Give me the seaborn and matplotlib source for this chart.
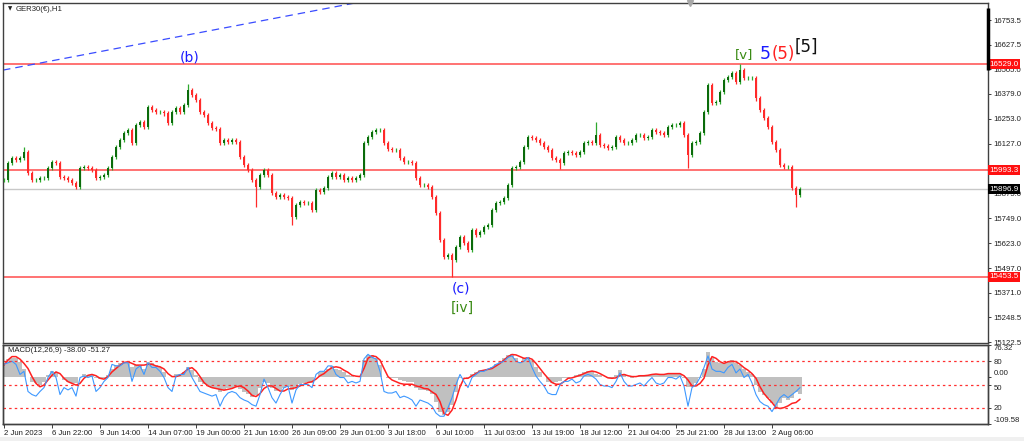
import numpy as np
import pandas as pd
import matplotlib
matplotlib.use("Agg")
import matplotlib.pyplot as plt
import matplotlib.transforms as mtransforms
from matplotlib.patches import Rectangle
import seaborn as sns

# ---- data (one value per candle, 200 candles) ----
closes = [
    15943, 16029, 16055, 16044, 16055, 16085, 15979, 15943, 15943, 15953,
    15953, 16004, 16034, 16029, 15958, 15953, 15943, 15928, 15908, 16004,
    16009, 16004, 15994, 15953, 15958, 15968, 16004, 16060, 16110, 16146,
    16181, 16196, 16131, 16222, 16237, 16212, 16313, 16298, 16288, 16288,
    16282, 16232, 16288, 16308, 16288, 16323, 16399, 16374, 16348, 16288,
    16272, 16232, 16207, 16201, 16131, 16146, 16136, 16146, 16136, 16060,
    16019, 15994, 15943, 15908, 15968, 15994, 15968, 15877, 15857, 15867,
    15857, 15852, 15756, 15816, 15832, 15827, 15827, 15791, 15892, 15882,
    15903, 15958, 15979, 15958, 15968, 15943, 15953, 15943, 15953, 15968,
    16131, 16161, 16186, 16196, 16196, 16131, 16100, 16095, 16095, 16055,
    16034, 16034, 16029, 15953, 15918, 15918, 15908, 15857, 15776, 15639,
    15553, 15563, 15538, 15604, 15654, 15624, 15589, 15690, 15665, 15680,
    15705, 15715, 15791, 15827, 15832, 15852, 15918, 16004, 16009, 16034,
    16110, 16161, 16156, 16146, 16131, 16110, 16095, 16055, 16044, 16029,
    16080, 16085, 16080, 16070, 16085, 16131, 16136, 16131, 16171, 16120,
    16115, 16105, 16110, 16161, 16146, 16131, 16131, 16146, 16171, 16171,
    16156, 16161, 16196, 16186, 16181, 16171, 16212, 16222, 16222, 16232,
    16171, 16070, 16131, 16136, 16181, 16288, 16424, 16333, 16338, 16389,
    16450, 16465, 16485, 16440, 16500, 16460, 16460, 16460, 16358, 16298,
    16257, 16212, 16136, 16095, 16019, 16009, 16009, 15903, 15867, 15896.9,
]

# candles with long wicks
spike_hi_idx = [5, 46, 148, 184]
spike_hi_val = [16110, 16430, 16237, 16529.0]
spike_lo_idx = [63, 72, 112, 139, 171, 198]
spike_lo_val = [15806, 15715, 15453.5, 15999, 16004, 15806]

macd_main = [
    29, 43, 46, 45, 37, 21, 2, -10, -14, -18,
    -10, 5, 15, 13, 2, -6, -10, -12, -14, 2,
    7, 5, 5, -2, -4, -2, 5, 21, 29, 33,
    37, 37, 25, 29, 29, 21, 37, 33, 29, 25,
    13, 2, 2, 9, 9, 13, 25, 17, 5, -10,
    -16, -20, -26, -26, -34, -30, -26, -24, -22, -27,
    -34, -40, -45, -42, -26, -10, -14, -26, -32, -30,
    -26, -22, -30, -22, -16, -14, -10, -14, 2, 12,
    15, 21, 27, 21, 17, 13, 5, 4, 2, 4,
    41, 53, 53, 45, 29, 2, -2, -2, -2, -6,
    -9, -10, -10, -26, -30, -30, -32, -38, -57, -81,
    -89, -81, -65, -34, -2, 2, -2, 9, 13, 17,
    17, 20, 25, 31, 37, 45, 53, 56, 45, 37,
    45, 49, 41, 25, 13, 2, -10, -14, -10, -9,
    -2, -1, 2, 5, 9, 13, 15, 15, 9, 5,
    2, -2, -2, 5, 17, 9, 2, -1, 2, 5,
    4, 5, 9, 7, 7, 5, 9, 9, 7, 9,
    -2, -22, -22, -14, -2, 21, 60, 45, 37, 33,
    33, 37, 41, 33, 29, 21, 13, 7, -18, -34,
    -42, -49, -61, -69, -61, -49, -53, -49, -34, -38.00,
]

macd_signal = [
    29, 41, 49, 49, 43, 33, 21, 2, -14, -22,
    -18, -6, 5, 13, 9, -2, -10, -14, -18, -14,
    -2, 5, 7, 4, -2, -4, 2, 13, 21, 29,
    35, 37, 33, 29, 29, 29, 31, 31, 27, 25,
    20, 9, 2, 2, 5, 12, 20, 23, 15, 2,
    -12, -20, -24, -26, -28, -30, -28, -26, -22, -20,
    -24, -32, -42, -45, -38, -26, -20, -20, -26, -32,
    -32, -27, -26, -24, -20, -16, -12, -10, -4, 4,
    9, 17, 23, 25, 23, 17, 12, 5, 3, 2,
    21, 45, 51, 49, 41, 21, 2, -6, -10, -14,
    -16, -16, -16, -20, -22, -26, -27, -34, -40, -57,
    -85, -89, -77, -53, -22, -2, -2, 4, 9, 15,
    17, 19, 21, 27, 33, 41, 49, 54, 53, 49,
    45, 46, 43, 33, 21, 9, -2, -12, -16, -16,
    -10, -2, -1, 2, 5, 9, 13, 15, 13, 9,
    4, -1, -2, -1, 5, 7, 4, 2, 2, 4,
    4, 5, 7, 8, 7, 7, 9, 9, 9, 9,
    4, -6, -20, -20, -14, -2, 29, 49, 45, 37,
    33, 37, 38, 37, 31, 23, 17, 9, -2, -22,
    -38, -49, -59, -71, -73, -71, -67, -61, -59, -51.27,
]

# oscillator on the 0-100 scale (levels 80 / 50 / 20)
osc = [
    76, 78, 80, 76, 63, 67, 41, 37, 35, 41,
    46, 59, 67, 59, 37, 46, 43, 46, 35, 59,
    61, 59, 61, 41, 46, 54, 59, 76, 74, 74,
    78, 78, 54, 70, 74, 63, 78, 72, 72, 67,
    59, 46, 41, 61, 63, 63, 72, 59, 50, 41,
    39, 37, 35, 37, 22, 33, 39, 41, 39, 33,
    30, 28, 24, 22, 37, 57, 46, 33, 26, 37,
    46, 48, 26, 43, 50, 50, 50, 46, 63, 67,
    67, 74, 74, 63, 59, 59, 52, 54, 52, 54,
    83, 89, 85, 83, 67, 41, 39, 39, 41, 33,
    35, 33, 30, 22, 30, 28, 26, 22, 13, 9,
    9, 20, 33, 50, 63, 54, 46, 59, 63, 67,
    67, 70, 72, 76, 78, 80, 85, 87, 80, 78,
    80, 85, 72, 61, 54, 48, 39, 37, 37, 50,
    54, 54, 57, 52, 54, 61, 63, 61, 57, 50,
    48, 48, 46, 54, 65, 54, 48, 48, 50, 52,
    48, 54, 59, 52, 50, 52, 59, 59, 57, 61,
    48, 22, 46, 50, 59, 72, 87, 70, 67, 67,
    65, 72, 76, 65, 70, 59, 63, 52, 37, 28,
    24, 22, 15, 24, 33, 37, 33, 37, 41, 46,
]

date_labels = ['2 Jun 2023', '6 Jun 22:00', '9 Jun 14:00', '14 Jun 07:00', '19 Jun 00:00',
               '21 Jun 16:00', '26 Jun 09:00', '29 Jun 01:00', '3 Jul 18:00', '6 Jul 10:00',
               '11 Jul 03:00', '13 Jul 19:00', '18 Jul 12:00', '21 Jul 04:00', '25 Jul 21:00',
               '28 Jul 13:00', '2 Aug 06:00']
date_idx = list(range(0, 193, 12))

price_ticks = [16753.5, 16627.5, 16505.0, 16379.0, 16253.0, 16127.0,
               15875.0, 15749.0, 15623.0, 15497.0, 15371.0, 15248.5, 15122.5]
red_levels = [16529.0, 15993.3, 15453.5]
last_price = 15896.9
trend_x = [-0.25, 87.75]
trend_y = [16500, 16840]

macd_ticks = [76.32, 0.00, -109.58]
osc_levels = [80, 50, 20]

# ---- build the frame ----
idx = np.arange(len(closes))
df = pd.DataFrame({'bar': idx, 'close': closes, 'main': macd_main,
                   'signal': macd_signal, 'osc': osc})
df['open'] = df['close'].shift(1).fillna(df['close'].iloc[0])
wick = 12
df['high'] = df[['open', 'close']].max(axis=1) + wick
df['low'] = df[['open', 'close']].min(axis=1) - wick
for i, v in zip(spike_hi_idx, spike_hi_val):
    df.loc[i, 'high'] = max(df.loc[i, 'high'], v)
for i, v in zip(spike_lo_idx, spike_lo_val):
    df.loc[i, 'low'] = min(df.loc[i, 'low'], v)

sns.set_theme(style='white')
plt.rcParams['font.family'] = ['DejaVu Sans']

W, H = 1024, 441
fig = plt.figure(figsize=(W / 100, H / 100), dpi=100)
fig.patch.set_facecolor('white')
fig.patches.append(Rectangle((0, 0), 1, 4 / H, transform=fig.transFigure,
                             fc='#f0f0f0', ec='none'))

def frac(x0, y0, x1, y1):
    return [x0 / W, 1 - y1 / H, (x1 - x0) / W, (y1 - y0) / H]

ax = fig.add_axes(frac(3, 3, 988, 343))
ax_m = fig.add_axes(frac(3, 345, 988, 424))

small = dict(family='Liberation Sans', size=5.6, color='#202020')

# candles
up = df['close'] >= df['open']
wick_col = np.where(up, '#2ea82e', '#ff2a2a')
body_col = np.where(up, '#0b6b0b', '#ff2a2a')
ax.vlines(df['bar'], df['low'], df['high'], colors=wick_col, lw=0.9, zorder=3)
body_h = (df['close'] - df['open']).abs().clip(lower=2)
ax.bar(df['bar'], body_h, bottom=df[['open', 'close']].min(axis=1), width=0.38,
       color=body_col, linewidth=0, zorder=4)

for lv in red_levels:
    ax.axhline(lv, color='#ff5a5a', lw=1.2, zorder=2)
ax.axhline(last_price, color='#c8c8c8', lw=1.0, zorder=1)
ax.plot(trend_x, trend_y, color='#3a4cff', lw=0.9, dashes=(6, 4), zorder=2)

ax.set_xlim(-0.25, 246)
ax.set_ylim(15117.5, 16840)
ax.set_xticks([])
ax.yaxis.tick_right()
ax.set_yticks(price_ticks)
ax.set_yticklabels([f'{t:.1f}' for t in price_ticks], **small)
ax.tick_params(axis='y', length=2.5, width=0.6, pad=1.5, colors='#202020')
for s in ax.spines.values():
    s.set_color('#404040')
    s.set_linewidth(1.0)

# right-side price boxes
blend = mtransforms.blended_transform_factory(ax.transAxes, ax.transData)
for lv in red_levels:
    ax.text(1.0015, lv, f'{lv:.1f}', transform=blend, ha='left', va='center',
            family='Liberation Sans', size=5.8, color='white', zorder=10,
            bbox=dict(boxstyle='square,pad=0.18', fc='#ff1010', ec='none'))
ax.text(1.0015, last_price, f'{last_price:.1f}', transform=blend, ha='left',
        va='center', family='Liberation Sans', size=5.8, color='white', zorder=10,
        bbox=dict(boxstyle='square,pad=0.18', fc='#000000', ec='none'))
ax.plot([1.0, 1.0], [16500, 16814], transform=blend, color='black', lw=2.5,
        clip_on=False, solid_capstyle='butt', zorder=11)
ax.plot([171.5], [16842], marker='v', color='#a8a8a8', ms=5, clip_on=False, zorder=11)

# titles
ax.text(0.005, 0.982, '\u25bc', transform=ax.transAxes, size=4, color='#202020',
        va='center', ha='left')
ax.text(0.013, 0.982, 'GER30(\u20ac),H1', transform=ax.transAxes, va='center',
        ha='left', **small)

# wave labels
wave = dict(ha='center', va='center', zorder=12)
ax.text(46.5, 16566, '(b)', color='#1c1cff', size=10, **wave)
ax.text(114.25, 15396, '(c)', color='#1c1cff', size=10, **wave)
ax.text(114.5, 15294, '[iv]', color='#3a8a14', size=10, **wave)
ax.text(185.0, 16581, '[v]', color='#3a8a14', size=9.5, **wave)
ax.text(190.3, 16581, '5', color='#1c1cff', size=12.5, **wave)
ax.text(194.9, 16581, '(5)', color='#ff2020', size=12, **wave)
ax.text(200.6, 16617, '[5]', color='#111111', size=12, **wave)

# ---- MACD panel ----
ax_s = ax_m.twinx()
ax_m.bar(df['bar'], df['main'], width=1.0, color='#c0c0c0', linewidth=0, zorder=1)
sns.lineplot(data=df, x='bar', y='signal', ax=ax_m, color='#ff2020', lw=1.1, zorder=3)
sns.lineplot(data=df, x='bar', y='osc', ax=ax_s, color='#3d98ff', lw=0.8, zorder=2)
for lv in osc_levels:
    ax_s.axhline(lv, color='#ff3030', lw=0.9, dashes=(2, 2.5))

ax_m.set_xlim(-0.25, 246)
ax_m.set_ylim(-109.58, 76.32)
ax_s.set_ylim(-1, 101)
for a in (ax_m, ax_s):
    a.set_xlabel('')
    a.set_ylabel('')
ax_m.yaxis.tick_right()
ax_m.set_yticks(macd_ticks)
ax_m.set_yticklabels([f'{t:.2f}' for t in macd_ticks], **small)
ax_m.get_yticklabels()[0].set_va('top')
ax_m.get_yticklabels()[1].set_va('bottom')
ax_m.get_yticklabels()[2].set_va('bottom')
ax_s.set_yticks(osc_levels)
ax_s.set_yticklabels([str(v) for v in osc_levels], **small)
ax_s.get_yticklabels()[1].set_va('top')
for a in (ax_m, ax_s):
    a.tick_params(axis='y', length=2.5, width=0.6, pad=1.5, colors='#202020')

ax_m.set_xticks(date_idx)
ax_m.set_xticklabels(date_labels, ha='left', **small)
ax_m.tick_params(axis='x', length=3, width=0.6, pad=1.5, colors='#202020', bottom=True)
for s in list(ax_m.spines.values()) + list(ax_s.spines.values()):
    s.set_color('#404040')
    s.set_linewidth(1.0)

ax_m.text(0.005, 0.93, 'MACD(12,26,9) -38.00 -51.27', transform=ax_m.transAxes,
          va='center', ha='left', zorder=12, **small)

fig.savefig('out.png', dpi=100, facecolor=fig.get_facecolor())
